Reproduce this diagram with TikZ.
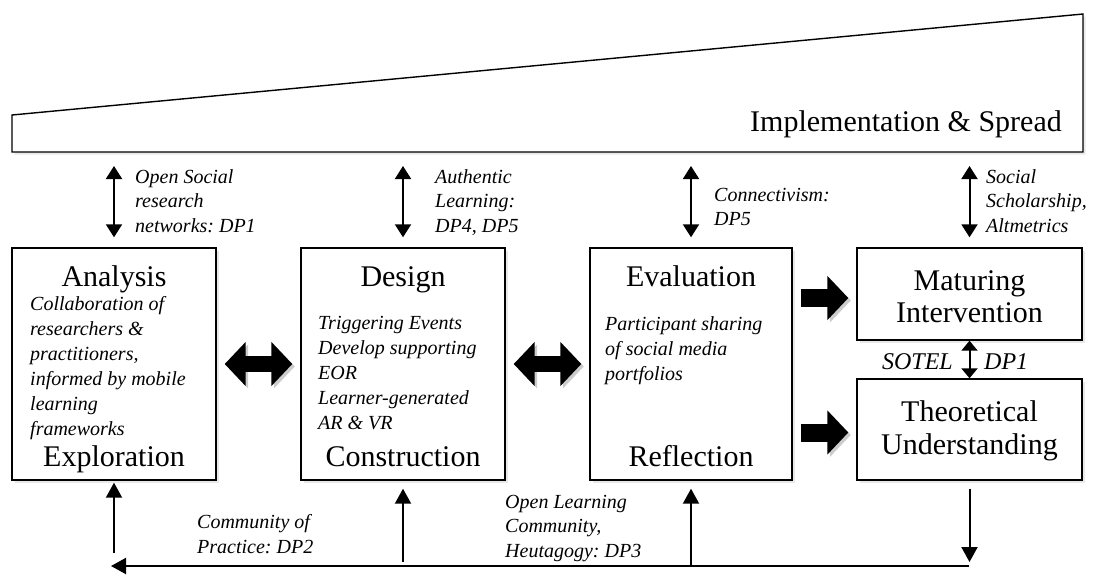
\documentclass[tikz,border=0pt]{standalone}
\usepackage{fontspec}
\setmainfont{Liberation Serif}
\usetikzlibrary{arrows.meta,calc,shadows}
\frenchspacing
\begin{document}
\begin{tikzpicture}[x=1pt,y=-1pt,
  shadowed/.style={drop shadow={shadow xshift=2.5pt,shadow yshift=-2.5pt,opacity=0.18}},
  box/.style={draw=black,line width=1.4pt,fill=white,shadowed,inner sep=0pt},
  title/.style={font=\fontsize{30}{33}\selectfont,anchor=base,inner sep=0pt},
  note/.style={font=\fontsize{20}{25}\selectfont\itshape,align=left,inner sep=0pt,anchor=north west},
  lab/.style={font=\fontsize{20}{24.5}\selectfont\itshape,align=left,inner sep=0pt,anchor=north west},
  twoway/.style={line width=2pt,{Triangle[length=13pt,width=16pt]}-{Triangle[length=13pt,width=16pt]}},
  oneway/.style={line width=2pt,-{Triangle[length=15pt,width=16pt]}},
  blockarrow/.style={line width=18pt,-{Triangle[length=21pt,width=43pt]},
     preaction={draw=black!20,transform canvas={xshift=2.5pt,yshift=-2.5pt}}},
  blockdouble/.style={line width=16pt,{Triangle[length=21pt,width=43pt]}-{Triangle[length=21pt,width=43pt]},
     preaction={draw=black!20,transform canvas={xshift=2.5pt,yshift=-2.5pt}}},
]
\useasboundingbox (0,0) rectangle (1094,574);

% wedge
\draw[line width=1.4pt,fill=white,shadowed] (12,152) -- (12,115) -- (1083,14) -- (1083,152) -- cycle;
\node[title,anchor=base east] (spread) at (1062,131) {Implementation \& Spread};
\coordinate (w1) at (114,166);
\coordinate (w2) at (403,166);
\coordinate (w3) at (691,166);
\coordinate (w4) at (969.5,166);

% boxes
\node[box,minimum width=204,minimum height=232] (A) at (114,364) {};
\node[box,minimum width=204,minimum height=232] (D) at (403,364) {};
\node[box,minimum width=202,minimum height=232] (E) at (691,364) {};
\node[box,minimum width=225,minimum height=92] (M) at (969.5,294) {};
\node[box,minimum width=225,minimum height=101] (T) at (969.5,429.5) {};

% box texts
\node[title] (At) at (114,286) {Analysis};
\node[note] (An) at (30,296) {Collaboration of\\researchers \&\\practitioners,\\informed by mobile\\learning\\frameworks};
\node[title] (Ab) at (114,466) {Exploration};

\node[title] (Dt) at (403,286) {Design};
\node[note] (Dn) at (318,316) {Triggering Events\\Develop supporting\\EOR\\Learner-generated\\AR \& VR};
\node[title] (Db) at (403,466) {Construction};

\node[title] (Et) at (691,286) {Evaluation};
\node[note] (En) at (605,316) {Participant sharing\\of social media\\portfolios};
\node[title] (Eb) at (691,466) {Reflection};

\node[title] (Mt1) at (969.5,290) {Maturing};
\node[title] (Mt2) at (969.5,322) {Intervention};
\node[title] (Tt1) at (969.5,421) {Theoretical};
\node[title] (Tt2) at (969.5,454) {Understanding};

% top labels and arrows
\draw[twoway] (w1) -- ([yshift=10pt]A.north);
\draw[twoway] (w2) -- ([yshift=10pt]D.north);
\draw[twoway] (w3) -- ([yshift=10pt]E.north);
\draw[twoway] (w4) -- ([yshift=10pt]M.north);
\node[lab] (L1) at (135,169) {Open Social\\research\\networks: DP1};
\node[lab] (L2) at (435,169) {Authentic\\Learning:\\DP4, DP5};
\node[lab] (L3) at (714,188) {Connectivism:\\DP5};
\node[lab] (L4) at (986,169) {Social\\Scholarship,\\Altmetrics};

% block arrows
\draw[blockdouble] ([xshift=8pt]A.east) -- ([xshift=-8pt]D.west);
\draw[blockdouble] ([xshift=8pt]D.east) -- ([xshift=-8pt]E.west);
\draw[blockarrow] ($(E.east |- M.west)+(8,4)$) -- ($(M.west)+(-8,4)$);
\draw[blockarrow] ($(E.east |- T.west)+(8,3)$) -- ($(T.west)+(-8,3)$);

% SOTEL
\draw[line width=2pt,{Triangle[length=10pt,width=16pt]}-{Triangle[length=10pt,width=16pt]}] (M.south) -- (T.north);
\node[font=\fontsize{24}{28}\selectfont\itshape,anchor=base east,inner sep=0pt] (sotel) at (953,369) {SOTEL};
\node[font=\fontsize{24}{28}\selectfont\itshape,anchor=base west,inner sep=0pt] (dp1) at (984,369) {DP1};

% bottom feedback
\coordinate (br) at (969.5,566);
\coordinate (bl) at (111,566);
\coordinate (ua) at (114,553);
\coordinate (ud) at (403,562);
\coordinate (ue) at (691,565);
\draw[oneway] ([yshift=-8pt]T.south) -- ([yshift=4pt]br);
\draw[line width=2pt,-{Triangle[length=15pt,width=16pt]}] ([xshift=-1pt]br) -- (bl);
\draw[oneway] (ua) -- ([yshift=-2pt]A.south);
\draw[oneway] (ud) -- ([yshift=-8pt]D.south);
\draw[oneway] (ue) -- ([yshift=-8pt]E.south);
\node[note] (cop) at (197,514) {Community of\\Practice: DP2};
\node[lab] (olc) at (505,495) {Open Learning\\Community,\\Heutagogy: DP3};
\end{tikzpicture}
\end{document}
